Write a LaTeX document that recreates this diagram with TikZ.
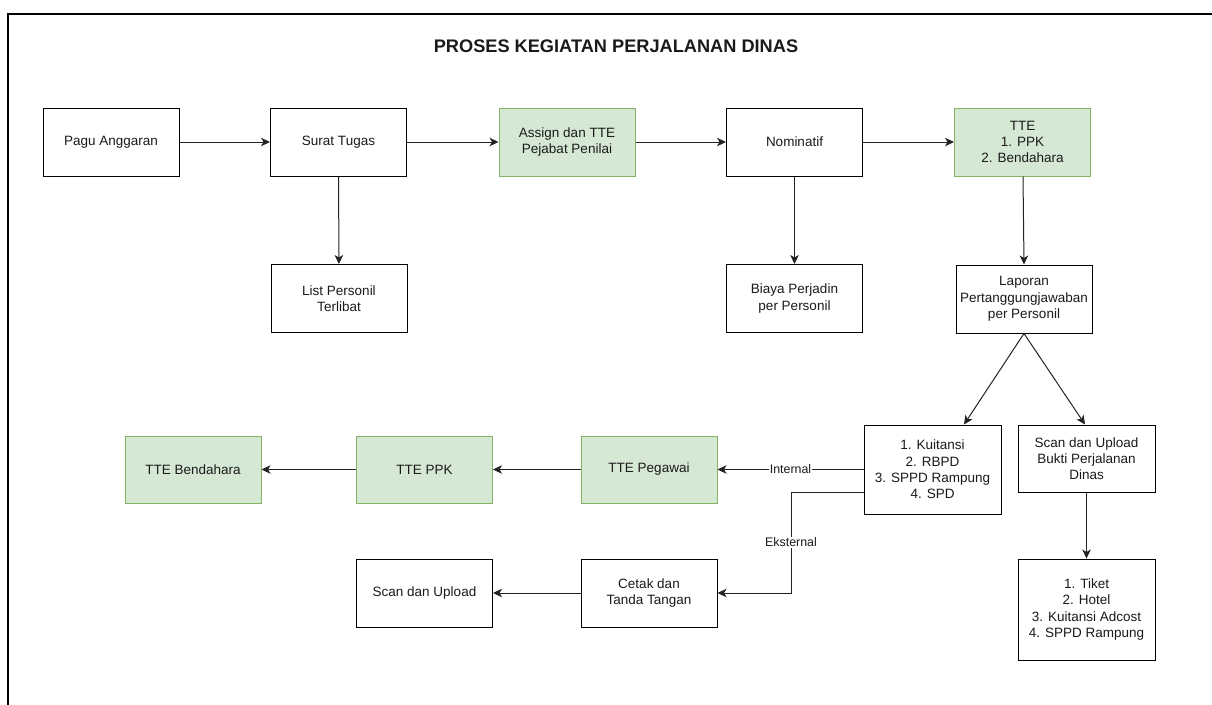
\documentclass[tikz,border=0pt]{standalone}
\usepackage{fontspec}
\setmainfont{Liberation Sans}
\usetikzlibrary{arrows.meta}
\definecolor{gfill}{HTML}{D5E8D4}
\definecolor{gline}{HTML}{82B366}
\definecolor{txt}{HTML}{1A1A1A}
\definecolor{edge}{HTML}{222222}
\begin{document}
\begin{tikzpicture}[x=1pt,y=-1pt,
  box/.style={draw=black, line width=1pt, fill=white, minimum width=136pt, minimum height=68pt, align=center, font=\fontsize{13.5}{16.3}\selectfont, text=txt, inner sep=2pt},
  gbox/.style={box, draw=gline, fill=gfill},
  arr/.style={draw=edge, line width=1pt, -{Stealth[length=9pt,width=8.5pt,inset=2.5pt]}},
  lbl/.style={fill=white, font=\fontsize{12.4}{14}\selectfont, text=txt, inner sep=1pt}]
\useasboundingbox (0,0) rectangle (1212,704);
\draw[line width=2pt] (1220,14) -- (8,14) -- (8,712);

\node[font=\bfseries\fontsize{18.2}{20}\selectfont, text=txt] (title) at (616,46) {PROSES KEGIATAN PERJALANAN DINAS};

% row 1
\node[box]  (pagu)   at (111,142)   {Pagu Anggaran};
\node[box]  (surat)  at (338.5,142) {Surat Tugas};
\node[gbox] (assign) at (567,142)   {Assign dan TTE\\Pejabat Penilai};
\node[box]  (nomin)  at (794.5,142) {Nominatif};
\node[gbox] (tte)    at (1022.5,142) {TTE\\1. PPK\\2. Bendahara};

% row 2
\node[box] (list)  at (339,298.5)   {List Personil\\Terlibat};
\node[box] (biaya) at (794.5,298.5) {Biaya Perjadin\\per Personil};
\node[box] (lapor) at (1024,299)    {Laporan\\Pertanggungjawaban\\per Personil};

% row 3
\node[box, minimum width=137pt, minimum height=89pt] (kuit) at (932.5,469.5) {1. Kuitansi\\2. RBPD\\3. SPPD Rampung\\4. SPD};
\node[box, minimum width=137pt, minimum height=67pt] (bukti) at (1086.5,458.5) {Scan dan Upload\\Bukti Perjalanan\\Dinas};
\node[gbox, minimum height=67pt] (ttepeg) at (649,469.5)   {TTE Pegawai};
\node[gbox, minimum height=67pt] (tteppk) at (424.5,469.5) {TTE PPK};
\node[gbox, minimum height=67pt] (tteben) at (193,469.5)   {TTE Bendahara};

% row 4
\node[box] (cetak)  at (649,593)   {Cetak dan\\Tanda Tangan};
\node[box] (scanup) at (424.5,593) {Scan dan Upload};
\node[box, minimum width=137pt, minimum height=101pt] (tiket) at (1086.5,609.5) {1. Tiket\\2. Hotel\\3. Kuitansi Adcost\\4. SPPD Rampung};

% connectors
\draw[arr] (pagu) -- (surat);
\draw[arr] (surat) -- (assign);
\draw[arr] (assign) -- (nomin);
\draw[arr] (nomin) -- (tte);
\draw[arr] (surat) -- (list);
\draw[arr] (nomin) -- (biaya);
\draw[arr] ([xshift=0.5pt]tte.south) -- (lapor.north);
\draw[arr] (lapor.south) -- ([xshift=31.5pt]kuit.north);
\draw[arr] (lapor.south) -- ([xshift=-1.5pt]bukti.north);
\draw[arr] (bukti) -- (tiket);
\draw[arr] (kuit) -- node[lbl] {Internal} (ttepeg);
\draw[arr] (ttepeg) -- (tteppk);
\draw[arr] (tteppk) -- (tteben);
\coordinate (ek) at (791,492);
\draw[arr] ([yshift=-22.5pt]kuit.west) -- (ek) -- node[lbl] {Eksternal} (ek |- cetak.east) -- (cetak.east);
\draw[arr] (cetak) -- (scanup);
\end{tikzpicture}
\end{document}
